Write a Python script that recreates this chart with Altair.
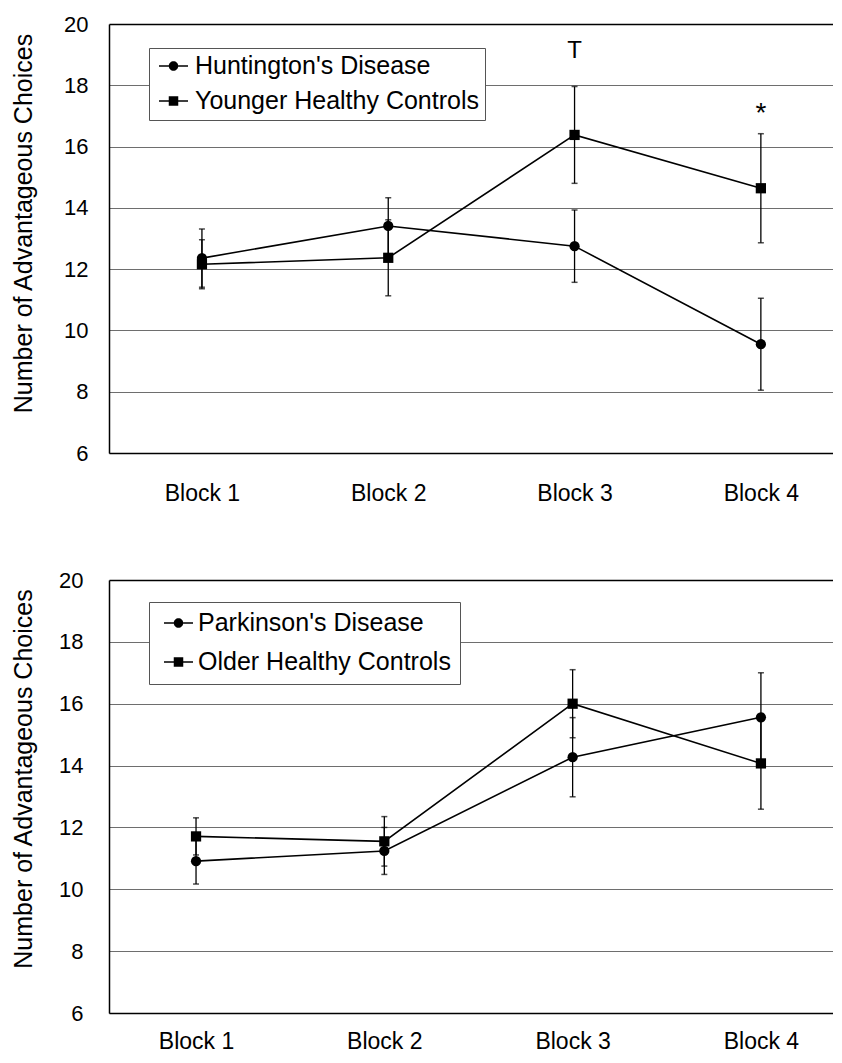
import altair as alt
import pandas as pd

FONT = "Liberation Sans"

blocks = ["Block 1", "Block 2", "Block 3", "Block 4"]
y_ticks = [6, 8, 10, 12, 14, 16, 18, 20]
y_title = "Number of Advantageous Choices"

# Top panel
top_series = ["Huntington's Disease", "Younger Healthy Controls"]
hd_mean = [12.36, 13.41, 12.75, 9.55]
hd_err = [0.95, 0.92, 1.18, 1.50]
yhc_mean = [12.16, 12.37, 16.38, 14.64]
yhc_err = [0.80, 1.24, 1.58, 1.78]

# Bottom panel
bottom_series = ["Parkinson's Disease", "Older Healthy Controls"]
pd_mean = [10.91, 11.24, 14.27, 15.56]
pd_err = [0.74, 0.76, 1.28, 1.44]
ohc_mean = [11.71, 11.55, 16.00, 14.07]
ohc_err = [0.60, 0.80, 1.10, 1.48]

# Significance marks (top panel)
ann_blocks = ["Block 3", "Block 4"]
ann_text = ["T", "*"]
ann_y = [19.12, 17.05]

circle_path = ("M-1.16,-0.064H-0.38V0.064H-1.16Z M0.38,-0.064H1.16V0.064H0.38Z "
               "M0.38,0A0.38,0.38,0,1,1,-0.38,0A0.38,0.38,0,1,1,0.38,0Z")
square_path = ("M-1.16,-0.064H-0.38V0.064H-1.16Z M0.38,-0.064H1.16V0.064H0.38Z "
               "M-0.38,-0.38H0.38V0.38H-0.38Z")


def make_df(names, means, errs):
    rows = []
    for name, m, e in zip(names, means, errs):
        for b, mv, ev in zip(blocks, m, e):
            rows.append({"block": b, "series": name, "mean": mv,
                         "lo": mv - ev, "hi": mv + ev})
    return pd.DataFrame(rows)


def panel(df, names, width, height, pad, align, label_pad, title_x, title_y,
          x_label_pad, leg_x, leg_y, leg_pad, row_pad, sym_off, lab_off, ann_df=None):
    xs = alt.Scale(type="point", padding=pad, align=align)
    x_axis = alt.Axis(title=None, labelAngle=0, labelFontSize=23, labelFont=FONT,
                      labelColor="black", labelPadding=x_label_pad, ticks=False,
                      tickSize=0, domainColor="black", domainWidth=1.5, grid=False)
    x = alt.X("block:O", sort=blocks, scale=xs, axis=x_axis)
    ys = alt.Scale(domain=[6, 20], nice=False, zero=False)
    y_axis = alt.Axis(title=y_title, values=y_ticks, labelFontSize=22, labelFont=FONT,
                      labelColor="black", labelPadding=label_pad, ticks=False, tickSize=0,
                      domainColor="black", domainWidth=1.5, grid=True,
                      gridColor={"condition": {"test": "datum.value === 20", "value": "black"},
                                 "value": "#6e6e6e"},
                      gridWidth={"condition": {"test": "datum.value === 20", "value": 1.6},
                                 "value": 1},
                      titleFont=FONT, titleFontSize=25, titleFontWeight="normal",
                      titleColor="black", titleX=title_x, titleY=title_y)

    base = alt.Chart(df)
    lines = base.mark_line(color="black", strokeWidth=1.6).encode(
        x=x, y=alt.Y("mean:Q", scale=ys, axis=y_axis), detail="series:N")
    bars = base.mark_rule(color="black", strokeWidth=1.3).encode(
        x=x, y=alt.Y("lo:Q", scale=ys, axis=y_axis), y2="hi:Q")
    caps_lo = base.mark_tick(color="black", thickness=1.5, size=6).encode(
        x=x, y=alt.Y("lo:Q", scale=ys, axis=y_axis))
    caps_hi = base.mark_tick(color="black", thickness=1.5, size=6).encode(
        x=x, y=alt.Y("hi:Q", scale=ys, axis=y_axis))
    points = base.mark_point(filled=True, color="black", opacity=1, size=105).encode(
        x=x, y=alt.Y("mean:Q", scale=ys, axis=y_axis),
        shape=alt.Shape("series:N", scale=alt.Scale(domain=names, range=["circle", "square"]),
                        legend=None))
    leg = base.transform_filter("false").mark_point(filled=True, color="black", opacity=1).encode(
        x=x, y=alt.Y("mean:Q", scale=ys, axis=y_axis),
        shape=alt.Shape("series:N",
                        scale=alt.Scale(domain=names, range=[circle_path, square_path]),
                        legend=alt.Legend(title=None, orient="none", legendX=leg_x, legendY=leg_y,
                                          fillColor="white", strokeColor="#555555",
                                          padding=leg_pad, labelFontSize=25, labelFont=FONT,
                                          labelColor="black", symbolSize=625,
                                          symbolFillColor="black", symbolStrokeColor="black",
                                          symbolStrokeWidth=0, symbolOpacity=1,
                                          symbolOffset=sym_off, labelOffset=lab_off,
                                          rowPadding=row_pad, labelLimit=600)))
    layers = [lines, bars, caps_lo, caps_hi, points, leg]
    if ann_df is not None:
        txt = alt.Chart(ann_df).mark_text(font=FONT, color="black", baseline="middle").encode(
            x=x, y=alt.Y("y:Q", scale=ys, axis=y_axis), text="label:N",
            size=alt.condition("datum.label === '*'", alt.value(28), alt.value(24)))
        layers.append(txt)
    return alt.layer(*layers).resolve_scale(shape="independent").properties(
        width=width, height=height)


top_df = make_df(top_series, [hd_mean, yhc_mean], [hd_err, yhc_err])
bottom_df = make_df(bottom_series, [pd_mean, ohc_mean], [pd_err, ohc_err])
ann_df = pd.DataFrame({"block": ann_blocks, "label": ann_text, "y": ann_y})

top = panel(top_df, top_series, 724, 429, 0.443, 0.563, 21, -73, 199, 29,
            40, 24, 5.5, 9, 6.5, 9, ann_df)
bottom = panel(bottom_df, bottom_series, 724, 433, 0.4225, 0.547, 26, -73, 198.5, 17,
               40, 22, 8.5, 13, 8.5, 7)

chart = alt.vconcat(top, bottom, spacing=64).resolve_scale(
    x="independent", y="independent", shape="independent"
).properties(
    padding={"left": 2, "top": 5, "right": 0, "bottom": 0}
).configure(font=FONT).configure_view(stroke=None)

chart.save("out.html", embed_options={"renderer": "svg", "actions": False})
